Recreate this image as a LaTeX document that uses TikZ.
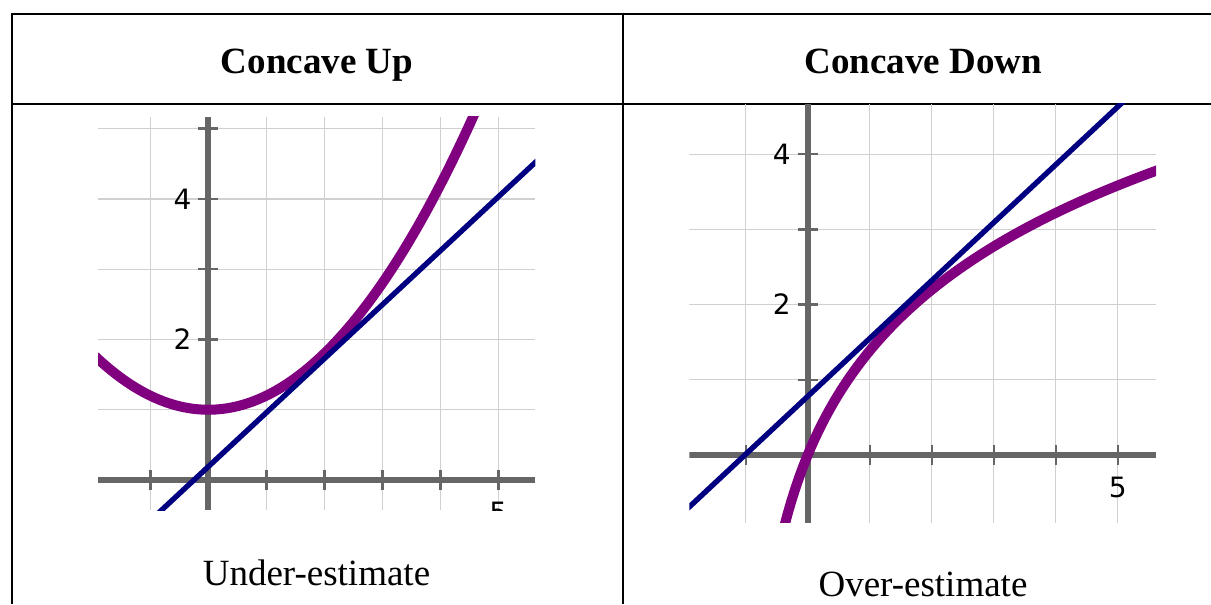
\documentclass[tikz,border=0pt]{standalone}
\usepackage{fontspec}
\setmainfont{Liberation Serif}
\newfontfamily\tickfont{DejaVu Sans}
\definecolor{curvepurple}{RGB}{128,0,128}
\definecolor{tangentblue}{RGB}{0,0,128}
\definecolor{axisgray}{RGB}{102,102,102}
\definecolor{gridgray}{RGB}{208,208,208}

\begin{document}
\begin{tikzpicture}[x=0.75pt, y=-0.75pt,
    rule/.style={line width=1.5pt},
    gridline/.style={gridgray, line width=1pt},
    axisline/.style={axisgray, line width=4.5pt},
    tickmark/.style={axisgray, line width=1.8pt},
    fcurve/.style={curvepurple, line width=7.5pt},
    tline/.style={tangentblue, line width=4pt},
    ticklabel/.style={font=\tickfont\fontsize{21}{21}\selectfont, inner sep=0pt},
    head/.style={font=\bfseries\fontsize{27.75}{30}\selectfont, anchor=base},
    caption/.style={font=\fontsize{27.75}{30}\selectfont, anchor=base}]

% Functions and tangent lines
\pgfmathdeclarefunction{CU}{1}{\pgfmathparse{0.2*(#1)^2 + 1}}      % concave up
\pgfmathdeclarefunction{TU}{1}{\pgfmathparse{0.768*(#1) + 0.19}}   % its tangent
\pgfmathdeclarefunction{CD}{1}{\pgfmathparse{2*ln(#1 + 1)}}        % concave down
\pgfmathdeclarefunction{TD}{1}{\pgfmathparse{0.77*(#1) + 0.78}}    % its tangent

\useasboundingbox (0,0) rectangle (1211,604);

% Table rules
\draw[rule] (1211,13.5) -- (12,13.5) -- (12,604);
\draw[rule] (12,104) -- (1211,104);
\draw[rule] (623.3,13.5) -- (623.3,604);

% Headers
\node[head] (hup) at (317,73.5) {Concave Up};
\node[head] (hdown) at (923.3,73.5) {Concave Down};

% Left plot: concave up
\begin{scope}[shift={(208.3,480)}, x=43.5pt, y=52.7pt]
  \clip (-1.9,-0.43) rectangle (5.64,5.17);
  % Grid
  \foreach \i in {-1,1,2,3,4,5}
    \draw[gridline] (\i,-0.43) -- (\i,5.17);
  \foreach \j in {1,...,5}
    \draw[gridline] (-1.9,\j) -- (5.64,\j);
  % Axes
  \draw[axisline] (-1.9,0) -- (5.64,0);
  \draw[axisline] (0,-0.43) -- (0,5.17);
  % Ticks
  \foreach \i in {-1,1,2,3,4,5}
    \draw[tickmark] (\i,0) ++(0,-7.5pt) -- ++(0,15pt);
  \foreach \j in {1,...,5}
    \draw[tickmark] (0,\j) ++(-7.5pt,0) -- ++(15pt,0);
  \node[ticklabel, anchor=east, xshift=-12.5pt] (ufour) at (0,4) {4};
  \node[ticklabel, anchor=east, xshift=-12.5pt] (utwo) at (0,2) {2};
  \node[ticklabel, anchor=north, yshift=-16pt] (ufive) at (5,0) {5};
  % Curve and tangent
  \draw[fcurve, domain=-1.95:4.9, samples=100] plot (\x,{CU(\x)});
  \draw[tline] (-1.95,{TU(-1.95)}) -- (5.7,{TU(5.7)});
\end{scope}

% Right plot: concave down
\begin{scope}[shift={(807.7,455)}, x=46.5pt, y=56.4pt]
  \clip (-1.91,-0.9) rectangle (5.62,4.67);
  % Grid
  \foreach \i in {-1,1,2,3,4,5}
    \draw[gridline] (\i,-0.9) -- (\i,4.67);
  \foreach \j in {1,...,4}
    \draw[gridline] (-1.91,\j) -- (5.62,\j);
  % Axes
  \draw[axisline] (-1.91,0) -- (5.62,0);
  \draw[axisline] (0,-0.9) -- (0,4.67);
  % Ticks
  \foreach \i in {-1,1,2,3,4,5}
    \draw[tickmark] (\i,0) ++(0,-7.5pt) -- ++(0,15pt);
  \foreach \j in {1,...,4}
    \draw[tickmark] (0,\j) ++(-7.5pt,0) -- ++(15pt,0);
  \node[ticklabel, anchor=east, xshift=-12.5pt] (dfour) at (0,4) {4};
  \node[ticklabel, anchor=east, xshift=-12.5pt] (dtwo) at (0,2) {2};
  \node[ticklabel, anchor=north, yshift=-16pt] (dfive) at (5,0) {5};
  % Curve and tangent
  \draw[fcurve, domain=-0.45:5.7, samples=100] plot (\x,{CD(\x)});
  \draw[tline] (-1.95,{TD(-1.95)}) -- (5.2,{TD(5.2)});
\end{scope}

% Captions
\node[caption] (under) at (316.5,585) {Under-estimate};
\node[caption] (over) at (923,596) {Over-estimate};

\end{tikzpicture}
\end{document}
